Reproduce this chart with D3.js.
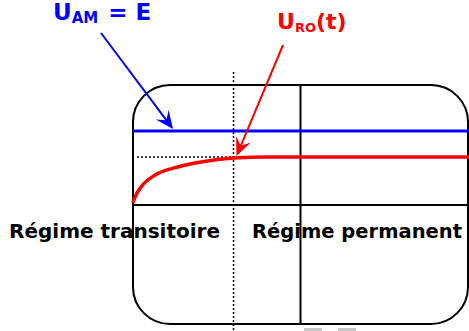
<!DOCTYPE html>
<html>
<head>
<meta charset="utf-8">
<script src="https://cdn.jsdelivr.net/npm/d3@7"></script>
<style>
	body { margin: 0; background: #fff; }
	svg { display: block; }
</style>
</head>
<body>
<div id="chart"></div>
<script>
// data
const E = 10;
const timeValues = [0, 0.05, 0.24, 0.66, 1.34, 2.03, 3.0, 4, 10];
const uroValues = [0.27, 0.95, 2.43, 4.05, 5.14, 5.81, 6.35, 6.5, 6.5];
const tTransient = 3;
const tDivider = 5;
const regimeLabels = ["Régime transitoire", "Régime permanent"];

const width = 469;
const height = 331;
const screen = { left: 133, right: 468, top: 85, bottom: 324, r: 37 };

const svg = d3.select('#chart').append('svg')
	.attr('width', width)
	.attr('height', height);

const x = d3.scaleLinear().domain([0, 10]).range([133, 468]);
const y = d3.scaleLinear().domain([0, E]).range([205, 131]);

// Labels (drawn first, lines go over them)
const labelFont = "'DejaVu Sans', sans-serif";
svg.append('text')
	.attr('x', 9).attr('y', 238)
	.attr('font-family', labelFont).attr('font-weight', 'bold')
	.attr('font-size', 20)
	.attr('textLength', 211).attr('lengthAdjust', 'spacingAndGlyphs')
	.text(regimeLabels[0]);
svg.append('text')
	.attr('x', 252).attr('y', 238)
	.attr('font-family', labelFont).attr('font-weight', 'bold')
	.attr('font-size', 20)
	.attr('textLength', 210).attr('lengthAdjust', 'spacingAndGlyphs')
	.text(regimeLabels[1]);

// U_AM = E
const uam = svg.append('text')
	.attr('x', 53).attr('y', 20)
	.attr('fill', '#0000ff')
	.attr('font-family', labelFont).attr('font-weight', 'bold')
	.attr('font-size', 23);
uam.append('tspan').text('U');
uam.append('tspan').attr('font-size', 15).attr('dy', 3).text('AM');
uam.append('tspan').attr('dy', -3).attr('dx', 10).text('= E');

// U_RO(t)
const uro = svg.append('text')
	.attr('x', 277).attr('y', 29)
	.attr('fill', '#ff0000')
	.attr('font-family', labelFont).attr('font-weight', 'bold')
	.attr('font-size', 22);
uro.append('tspan').text('U');
uro.append('tspan').attr('font-size', 13).attr('dy', 3).text('RO');
uro.append('tspan').attr('dy', -3).text('(t)');

// Screen outline
const s = screen;
svg.append('path')
	.attr('d', `M${s.left},${s.top + s.r} A${s.r},${s.r} 0 0 1 ${s.left + s.r},${s.top}
		L${s.right - s.r},${s.top} A${s.r},${s.r} 0 0 1 ${s.right},${s.top + s.r}
		L${s.right},${s.bottom - s.r} A${s.r},${s.r} 0 0 1 ${s.right - s.r},${s.bottom}
		L${s.left + s.r},${s.bottom} A${s.r},${s.r} 0 0 1 ${s.left},${s.bottom - s.r} Z`)
	.attr('fill', 'none')
	.attr('stroke', '#000')
	.attr('stroke-width', 2);

// time axis and divider
svg.append('line')
	.attr('x1', x(0)).attr('x2', x(10))
	.attr('y1', y(0)).attr('y2', y(0))
	.attr('stroke', '#000').attr('stroke-width', 2);
svg.append('line')
	.attr('x1', x(tDivider)).attr('x2', x(tDivider))
	.attr('y1', s.top).attr('y2', s.bottom)
	.attr('stroke', '#000').attr('stroke-width', 2);

// dotted guides
svg.append('line')
	.attr('x1', x(tTransient)).attr('x2', x(tTransient))
	.attr('y1', 72).attr('y2', height)
	.attr('stroke', '#000').attr('stroke-width', 1.5)
	.attr('stroke-dasharray', '2,2');
svg.append('line')
	.attr('x1', 137).attr('x2', x(tTransient))
	.attr('y1', y(6.5)).attr('y2', y(6.5))
	.attr('stroke', '#000').attr('stroke-width', 1.5)
	.attr('stroke-dasharray', '2,2');

// E line
svg.append('line')
	.attr('x1', x(0)).attr('x2', width)
	.attr('y1', y(E)).attr('y2', y(E))
	.attr('stroke', '#0000ff').attr('stroke-width', 3);

// U_RO curve
const line = d3.line()
	.x((d, i) => x(d))
	.y((d, i) => y(uroValues[i]))
	.curve(d3.curveMonotoneX);
svg.append('path')
	.attr('d', line(timeValues))
	.attr('fill', 'none')
	.attr('stroke', '#ff0000')
	.attr('stroke-width', 3.5);
svg.append('line')
	.attr('x1', x(10)).attr('x2', width)
	.attr('y1', y(6.5)).attr('y2', y(6.5))
	.attr('stroke', '#ff0000').attr('stroke-width', 3.5);

// arrows
function arrow(x1, y1, x2, y2, color) {
	const a = Math.atan2(y2 - y1, x2 - x1);
	svg.append('line')
		.attr('x1', x1).attr('y1', y1)
		.attr('x2', x2 - 8 * Math.cos(a)).attr('y2', y2 - 8 * Math.sin(a))
		.attr('stroke', color).attr('stroke-width', 2);
	const L = 18, W = 8, back = 11;
	const c = Math.cos(a), sn = Math.sin(a);
	const p = [
		[x2, y2],
		[x2 - L * c + W * sn, y2 - L * sn - W * c],
		[x2 - back * c, y2 - back * sn],
		[x2 - L * c - W * sn, y2 - L * sn + W * c]
	];
	svg.append('path')
		.attr('d', 'M' + p.map(q => q.join(',')).join('L') + 'Z')
		.attr('fill', color);
}
arrow(101, 33, 173, 129, '#0000ff');
arrow(283, 45, x(tTransient) + 3, y(6.5) - 1, '#ff0000');

// little grey tabs under the screen
svg.selectAll('.tab')
	.data([304, 338])
	.join('rect')
	.attr('x', d => d).attr('y', 328)
	.attr('width', 18).attr('height', 6)
	.attr('rx', 1)
	.attr('fill', '#c8c8c8');
</script>
</body>
</html>
